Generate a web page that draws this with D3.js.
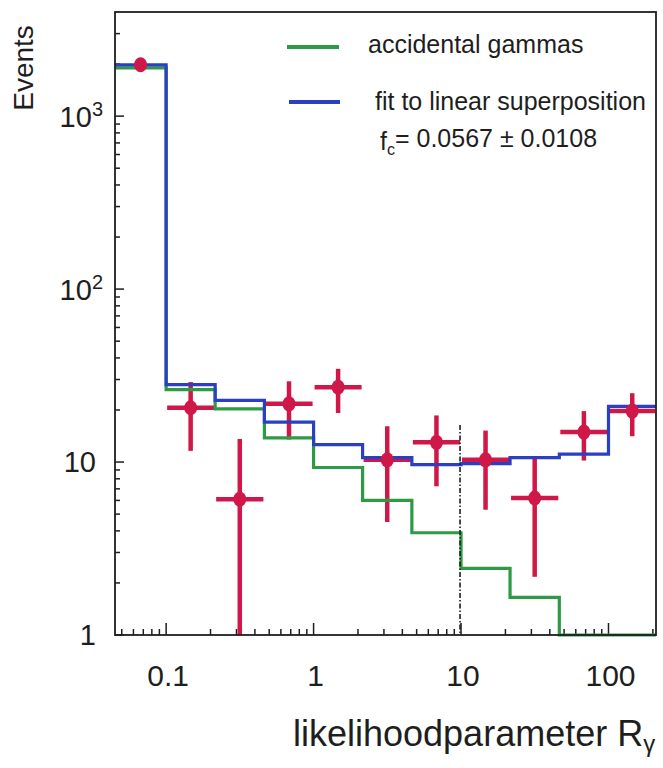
<!DOCTYPE html>
<html>
<head>
<meta charset="utf-8">
<script src="https://cdn.jsdelivr.net/npm/d3@7"></script>
<style>
  body { margin: 0; background: #fff; }
  text { font-family: "Liberation Sans", Arial, Helvetica, sans-serif; fill: #1e1e1e; }
</style>
</head>
<body>
<div id="chart"></div>
<script>
// histogram bin edges of the likelihood parameter (1/3 decade bins)
const binEdges = [0.045, 0.1, 0.215, 0.464, 1, 2.15, 4.64, 10, 21.5, 46.4, 100, 210];

// accidental gammas (green) and the fit to the linear superposition (blue)
const accidental = [1900, 26.2, 20.3, 13.8, 9.3, 6.0, 3.9, 2.43, 1.65, 0.5, 0.5];
const fitValues  = [1980, 28.0, 22.7, 17.0, 12.6, 10.6, 9.66, 9.8, 10.6, 11.1, 21.0];

// measured events with error bars (low values under 1 run off the axis)
const dataValues = [1980, 20.6, 6.1, 21.7, 27.1, 10.3, 13.0, 10.3, 6.2, 14.9, 19.7];
const dataHigh   = [2030, 29.0, 13.6, 29.3, 34.6, 16.1, 18.6, 15.2, 10.5, 19.7, 25.0];
const dataLow    = [1930, 11.6, 0.5, 13.5, 19.2, 4.5, 7.24, 5.3, 2.17, 10.2, 14.1];

// dash-dotted cut at R = 10
const cutX = 10, cutTop = 16.4;

const xTicks = [0.1, 1, 10, 100];
const yTicks = [1, 10, 100, 1000];
const yTickLabels = [["1", ""], ["10", ""], ["10", "2"], ["10", "3"]];

const width = 663, height = 768;
const pLeft = 115, pRight = 656, pTop = 12, pBottom = 635;

const svg = d3.select("#chart").append("svg")
  .attr("width", width)
  .attr("height", height);

svg.append("rect").attr("width", width).attr("height", height).attr("fill", "#fff");

const x = d3.scaleLog().domain([binEdges[0], binEdges[binEdges.length - 1]]).range([pLeft, pRight]);
const y = d3.scaleLog().domain([1, 4000]).range([pBottom, pTop]).clamp(true);

// minor ticks 2..9 in every decade
const xMinor = [], yMinor = [];
[0.01, 0.1, 1, 10, 100].forEach(d => {
  for (let k = 2; k <= 9; k++) {
    const v = d * k;
    if (v > x.domain()[0] && v < x.domain()[1]) xMinor.push(v);
  }
});
[1, 10, 100, 1000].forEach(d => {
  for (let k = 2; k <= 9; k++) {
    const v = d * k;
    if (v < y.domain()[1]) yMinor.push(v);
  }
});

const axes = svg.append("g").attr("stroke", "#1e1e1e").attr("stroke-width", 1.5);
axes.selectAll(".xminor").data(xMinor).join("line")
  .attr("x1", d => x(d)).attr("x2", d => x(d))
  .attr("y1", pBottom).attr("y2", pBottom - 6);
axes.selectAll(".xmajor").data(xTicks).join("line")
  .attr("x1", d => x(d)).attr("x2", d => x(d))
  .attr("y1", pBottom).attr("y2", pBottom - 12);
axes.selectAll(".yminor").data(yMinor).join("line")
  .attr("x1", pLeft).attr("x2", pLeft + 5)
  .attr("y1", d => y(d)).attr("y2", d => y(d));
axes.selectAll(".ymajor").data(yTicks).join("line")
  .attr("x1", pLeft).attr("x2", pLeft + 9)
  .attr("y1", d => y(d)).attr("y2", d => y(d));

// tick labels
svg.selectAll(".xlab").data(xTicks).join("text")
  .attr("x", d => x(d) + 2)
  .attr("y", 686)
  .attr("text-anchor", "middle")
  .style("font-size", "30px")
  .text(d => d3.format("~g")(d));

const ylab = svg.selectAll(".ylab").data(yTicks).join("text")
  .attr("x", (d, i) => yTickLabels[i][1] ? 103 : 96)
  .attr("y", d => y(d))
  .attr("dy", "0.36em")
  .attr("text-anchor", "end")
  .style("font-size", "29px");
ylab.append("tspan").text((d, i) => yTickLabels[i][0]);
ylab.append("tspan")
  .attr("dy", "-0.55em")
  .style("font-size", "20px")
  .text((d, i) => yTickLabels[i][1]);

// error bars
const bins = dataValues.map((v, i) => ({
  lo: binEdges[i], hi: binEdges[i + 1],
  c: Math.sqrt(binEdges[i] * binEdges[i + 1]),
  v: v, up: dataHigh[i], dn: dataLow[i]
}));

const red = "#cf1847";
svg.append("g").attr("stroke", red).attr("stroke-width", 4.5)
  .selectAll("line.h").data(bins.slice(1)).join("line")
  .attr("x1", d => x(d.lo) + 1).attr("x2", d => x(d.hi) - 1)
  .attr("y1", d => y(d.v)).attr("y2", d => y(d.v));
svg.append("g").attr("stroke", red).attr("stroke-width", 4.5)
  .selectAll("line.v").data(bins).join("line")
  .attr("x1", d => x(d.c)).attr("x2", d => x(d.c))
  .attr("y1", d => y(d.up)).attr("y2", d => y(d.dn));

// histograms as step lines
function steps(values) {
  const pts = [];
  values.forEach((v, i) => {
    pts.push([x(binEdges[i]), y(v)]);
    pts.push([x(binEdges[i + 1]), y(v)]);
  });
  return d3.line()(pts);
}

svg.append("path").attr("d", steps(accidental))
  .attr("fill", "none").attr("stroke", "#2f9a45").attr("stroke-width", 3.2);
svg.append("path").attr("d", steps(fitValues))
  .attr("fill", "none").attr("stroke", "#2a3fc2").attr("stroke-width", 3.2);

// data markers
svg.append("g").selectAll("ellipse").data(bins).join("ellipse")
  .attr("cx", d => x(d.c)).attr("cy", d => y(d.v))
  .attr("rx", 6.5).attr("ry", 7.5)
  .attr("fill", red);

// cut line
svg.append("line")
  .attr("x1", x(cutX) - 1).attr("x2", x(cutX) - 1)
  .attr("y1", y(cutTop)).attr("y2", pBottom)
  .attr("stroke", "#1e1e1e").attr("stroke-width", 1.6)
  .attr("stroke-dasharray", "5,2,1.5,2");

// frame
svg.append("rect")
  .attr("x", pLeft).attr("y", pTop)
  .attr("width", pRight - pLeft).attr("height", pBottom - pTop)
  .attr("fill", "none").attr("stroke", "#1e1e1e").attr("stroke-width", 1.8);

// axis titles
svg.append("text")
  .attr("transform", "translate(33,68) rotate(-90)")
  .attr("text-anchor", "middle")
  .style("font-size", "28px")
  .text("Events");

const xt = svg.append("text")
  .attr("x", 293).attr("y", 746)
  .style("font-size", "36px");
xt.append("tspan").text("likelihoodparameter R");
xt.append("tspan").attr("dy", "0.25em").style("font-size", "24px").text("γ");

// legend
const legend = [
  { label: "accidental gammas", color: "#2f9a45", x1: 287, x2: 339, ly: 47, tx: 368, ty: 53 },
  { label: "fit to linear superposition", color: "#2a3fc2", x1: 289, x2: 340, ly: 102, tx: 375, ty: 110 }
];
legend.forEach(l => {
  svg.append("line").attr("x1", l.x1).attr("x2", l.x2).attr("y1", l.ly).attr("y2", l.ly)
    .attr("stroke", l.color).attr("stroke-width", 4);
  svg.append("text").attr("x", l.tx).attr("y", l.ty).style("font-size", "25px").text(l.label);
});

const fc = svg.append("text").attr("x", 380).attr("y", 150).style("font-size", "25px");
fc.append("tspan").text("f");
fc.append("tspan").attr("dy", "0.3em").style("font-size", "16px").text("c");
fc.append("tspan").attr("dy", "-0.3em").text("= 0.0567 ± 0.0108");
</script>
</body>
</html>
